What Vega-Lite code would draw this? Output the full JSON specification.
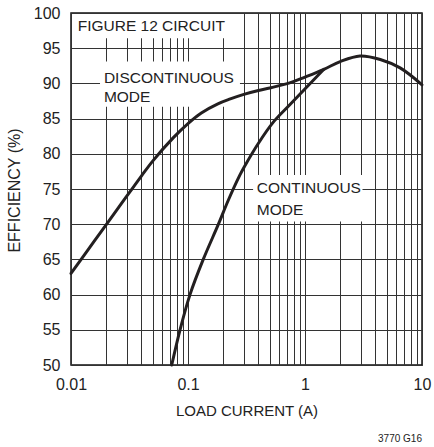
{
  "$schema": "https://vega.github.io/schema/vega-lite/v6.json",
  "width": 351,
  "height": 352,
  "autosize": "none",
  "padding": {"left": 71, "top": 13, "right": 12, "bottom": 82},
  "background": "white",
  "config": {
    "view": {"stroke": "#111", "strokeWidth": 1.5},
    "font": "Liberation Sans",
    "axis": {"gridColor": "#333", "gridWidth": 1, "gridOpacity": 1, "domain": false, "ticks": false, "labelFont": "Liberation Sans", "titleFont": "Liberation Sans", "labelColor": "#222", "titleColor": "#222", "titleFontWeight": "normal", "labelFontSize": 16, "titleFontSize": 15}
  },
  "title": {"text": "3770 G16", "orient": "bottom", "anchor": "end", "frame": "group", "fontSize": 10, "font": "Liberation Sans", "fontWeight": "normal", "color": "#222", "offset": 16},
  "datasets": {
    "curves": [
      {"x": 0.01, "y": 63.0, "mode": "D"},
      {"x": 0.0158, "y": 67.6, "mode": "D"},
      {"x": 0.0251, "y": 72.2, "mode": "D"},
      {"x": 0.0398, "y": 76.8, "mode": "D"},
      {"x": 0.0501, "y": 79.0, "mode": "D"},
      {"x": 0.075, "y": 82.3, "mode": "D"},
      {"x": 0.1, "y": 84.3, "mode": "D"},
      {"x": 0.13, "y": 85.8, "mode": "D"},
      {"x": 0.18, "y": 87.1, "mode": "D"},
      {"x": 0.23, "y": 87.8, "mode": "D"},
      {"x": 0.3, "y": 88.45, "mode": "D"},
      {"x": 0.4, "y": 89.0, "mode": "D"},
      {"x": 0.5, "y": 89.35, "mode": "D"},
      {"x": 0.75, "y": 90.1, "mode": "D"},
      {"x": 1.0, "y": 90.9, "mode": "D"},
      {"x": 1.45, "y": 92.0, "mode": "D"},
      {"x": 2.0, "y": 93.1, "mode": "D"},
      {"x": 2.95, "y": 93.9, "mode": "D"},
      {"x": 4.4, "y": 93.4, "mode": "D"},
      {"x": 6.5, "y": 92.2, "mode": "D"},
      {"x": 10, "y": 89.8, "mode": "D"},
      {"x": 0.0726, "y": 50.0, "mode": "C"},
      {"x": 0.0855, "y": 55.0, "mode": "C"},
      {"x": 0.104, "y": 60.0, "mode": "C"},
      {"x": 0.135, "y": 65.0, "mode": "C"},
      {"x": 0.182, "y": 70.0, "mode": "C"},
      {"x": 0.221, "y": 73.4, "mode": "C"},
      {"x": 0.278, "y": 77.0, "mode": "C"},
      {"x": 0.304, "y": 78.2, "mode": "C"},
      {"x": 0.4, "y": 81.5, "mode": "C"},
      {"x": 0.536, "y": 84.5, "mode": "C"},
      {"x": 0.745, "y": 87.0, "mode": "C"},
      {"x": 0.97, "y": 89.0, "mode": "C"},
      {"x": 1.2, "y": 90.6, "mode": "C"},
      {"x": 1.45, "y": 92.0, "mode": "C"}
    ],
    "boxes": [
      {"x": 0.0102, "x2": 0.23, "y": 96.4, "y2": 99.85},
      {"x": 0.0177, "x2": 0.278, "y": 86.7, "y2": 93.1},
      {"x": 0.36, "x2": 3.1, "y": 70.4, "y2": 77.0}
    ],
    "labels": [
      {"x": 0.0114, "y": 97.5, "text": "FIGURE 12 CIRCUIT"},
      {"x": 0.0191, "y": 90.1, "text": "DISCONTINUOUS"},
      {"x": 0.0191, "y": 87.4, "text": "MODE"},
      {"x": 0.387, "y": 74.4, "text": "CONTINUOUS"},
      {"x": 0.387, "y": 71.3, "text": "MODE"}
    ]
  },
  "encoding": {
    "x": {"field": "x", "type": "quantitative", "scale": {"type": "log", "domain": [0.01, 10], "nice": false},
      "axis": {"title": "LOAD CURRENT (A)", "values": [0.01,0.02,0.03,0.04,0.05,0.06,0.07,0.08,0.09,0.1,0.2,0.3,0.4,0.5,0.6,0.7,0.8,0.9,1,2,3,4,5,6,7,8,9,10],
        "format": "~g", "labelExpr": "(datum.value == 0.01 || datum.value == 0.1 || datum.value == 1 || datum.value == 10) ? datum.label : ''",
        "labelOverlap": false, "labelFlush": false, "labelPadding": 11, "labelBaseline": "top", "labelFontSize": 16, "titleFontSize": 15, "titleY": 45, "titleBaseline": "middle"}},
    "y": {"field": "y", "type": "quantitative", "scale": {"domain": [50, 100], "nice": false},
      "axis": {"title": "EFFICIENCY (%)", "values": [50,55,60,65,70,75,80,85,90,95,100], "labelOverlap": false, "labelPadding": 11, "labelBaseline": "middle", "labelFontSize": 16, "titleFontSize": 16, "titleX": -57, "titleY": 177, "titleBaseline": "middle", "titleAlign": "center", "titleAngle": 270}}
  },
  "layer": [
    {
      "data": {"name": "boxes"},
      "mark": {"type": "rect", "fill": "white", "stroke": null},
      "encoding": {
        "x2": {"field": "x2"},
        "y2": {"field": "y2"}
      }
    },
    {
      "data": {"name": "labels"},
      "mark": {"type": "text", "align": "left", "baseline": "alphabetic", "fontSize": 15.5, "font": "Liberation Sans", "color": "#222"},
      "encoding": {
        "text": {"field": "text"}
      }
    },
    {
      "data": {"name": "curves"},
      "mark": {"type": "line", "interpolate": "catmull-rom", "strokeWidth": 3, "color": "#231f20", "strokeCap": "round"},
      "encoding": {
        "detail": {"field": "mode"}
      }
    }
  ]
}
